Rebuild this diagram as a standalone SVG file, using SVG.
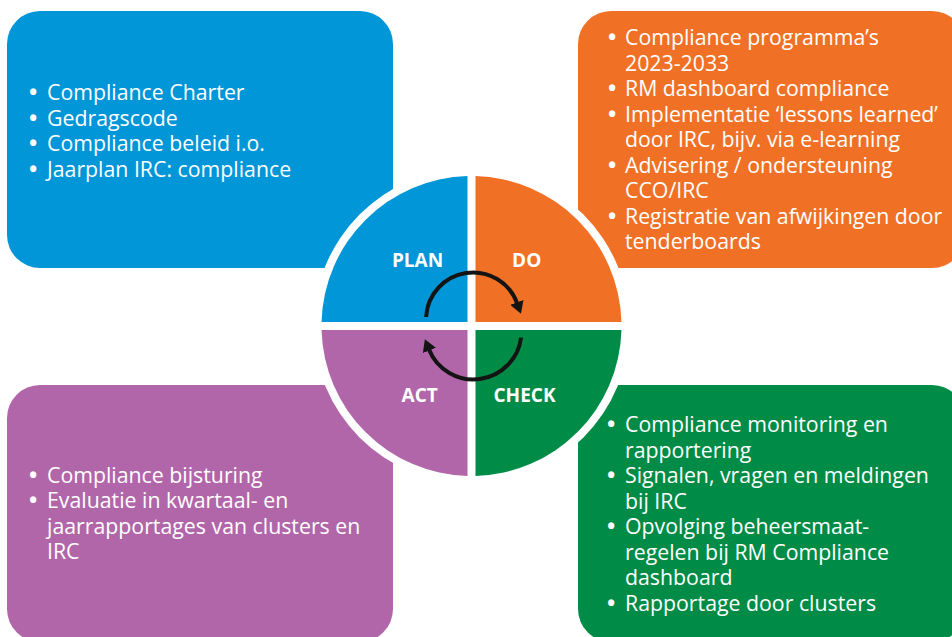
<svg xmlns="http://www.w3.org/2000/svg" width="952" height="637" viewBox="0 0 952 637">
  <style>
    .t { font-family: "Open Sans", "Noto Sans", "Liberation Sans", sans-serif; font-size: 21.3px; fill: #ffffff; }
    .b { font-weight: bold; font-size: 22px; }
    .lbl { font-family: "Open Sans", "Noto Sans", "Liberation Sans", sans-serif; font-size: 19px; font-weight: bold; fill: #ffffff; text-anchor: middle; }
    .arc { fill: none; stroke: #141414; stroke-width: 4; }
  </style>
  <defs>
    <marker id="ah" viewBox="0 0 12 14" markerWidth="12" markerHeight="14" refX="1" refY="7" orient="auto" markerUnits="userSpaceOnUse">
      <path d="M0,0 L12,7 L0,14 Z" fill="#141414"/>
    </marker>
  </defs>
  <rect width="952" height="637" fill="#ffffff"/>

  <g id="box-plan">
    <rect x="7" y="11" width="386" height="257" rx="33" fill="#0096d7"/>
    <text class="t" y="100.3"><tspan class="b" x="29">•</tspan><tspan x="47">Compliance Charter</tspan></text>
    <text class="t" y="125.8"><tspan class="b" x="29">•</tspan><tspan x="47">Gedragscode</tspan></text>
    <text class="t" y="151.3"><tspan class="b" x="29">•</tspan><tspan x="47">Compliance beleid i.o.</tspan></text>
    <text class="t" y="176.8"><tspan class="b" x="29">•</tspan><tspan x="47">Jaarplan IRC: compliance</tspan></text>
  </g>

  <g id="box-do">
    <rect x="578" y="11" width="387" height="257" rx="33" fill="#f07125"/>
    <text class="t" y="45.2"><tspan class="b" x="608">•</tspan><tspan x="625">Compliance programma’s</tspan></text>
    <text class="t" x="625" y="70.7">2023-2033</text>
    <text class="t" y="96.2"><tspan class="b" x="608">•</tspan><tspan x="625">RM dashboard compliance</tspan></text>
    <text class="t" y="121.7"><tspan class="b" x="608">•</tspan><tspan x="625">Implementatie ‘lessons learned’</tspan></text>
    <text class="t" x="625" y="147.2">door IRC, bijv. via e-learning</text>
    <text class="t" y="172.7"><tspan class="b" x="608">•</tspan><tspan x="625">Advisering / ondersteuning</tspan></text>
    <text class="t" x="625" y="198.2">CCO/IRC</text>
    <text class="t" y="223.7"><tspan class="b" x="608">•</tspan><tspan x="625">Registratie van afwijkingen door</tspan></text>
    <text class="t" x="625" y="249.2">tenderboards</text>
  </g>

  <g id="box-act">
    <rect x="7" y="385" width="386" height="257" rx="33" fill="#b166a9"/>
    <text class="t" y="482.5"><tspan class="b" x="29">•</tspan><tspan x="47">Compliance bijsturing</tspan></text>
    <text class="t" y="508"><tspan class="b" x="29">•</tspan><tspan x="47">Evaluatie in kwartaal- en</tspan></text>
    <text class="t" x="47" y="533.5">jaarrapportages van clusters en</text>
    <text class="t" x="47" y="559">IRC</text>
  </g>

  <g id="box-check">
    <rect x="578" y="385" width="387" height="257" rx="33" fill="#008c46"/>
    <text class="t" y="432"><tspan class="b" x="607">•</tspan><tspan x="625">Compliance monitoring en</tspan></text>
    <text class="t" x="625" y="457.5">rapportering</text>
    <text class="t" y="483"><tspan class="b" x="607">•</tspan><tspan x="625">Signalen, vragen en meldingen</tspan></text>
    <text class="t" x="625" y="508.5">bij IRC</text>
    <text class="t" y="534"><tspan class="b" x="607">•</tspan><tspan x="625">Opvolging beheersmaat-</tspan></text>
    <text class="t" x="625" y="559.5">regelen bij RM Compliance</text>
    <text class="t" x="625" y="585">dashboard</text>
    <text class="t" y="610.5"><tspan class="b" x="607">•</tspan><tspan x="625">Rapportage door clusters</tspan></text>
  </g>

  <g id="cycle">
    <circle cx="471.5" cy="326" r="158" fill="#ffffff"/>
    <g id="plan">
      <path d="M467.5,322 V176.05 A150,150 0 0 0 321.55,322 Z" fill="#0096d7"/>
      <text class="lbl" x="417.5" y="267.3">PLAN</text>
    </g>
    <g id="do">
      <path d="M475.5,322 V176.05 A150,150 0 0 1 621.45,322 Z" fill="#f07125"/>
      <text class="lbl" x="526.7" y="267.3">DO</text>
    </g>
    <g id="check">
      <path d="M475.5,330 V475.95 A150,150 0 0 0 621.45,330 Z" fill="#008c46"/>
      <text class="lbl" x="524.5" y="401.7">CHECK</text>
    </g>
    <g id="act">
      <path d="M467.5,330 V475.95 A150,150 0 0 1 321.55,330 Z" fill="#b166a9"/>
      <text class="lbl" x="419.7" y="401.7">ACT</text>
    </g>
  </g>

  <g id="connectors">
    <path class="arc" d="M426.1,317 A47,47 0 0 1 517.2,303.4" marker-end="url(#ah)"/>
    <path class="arc" d="M521.1,337.4 A48,48 0 0 1 429,349.5" marker-end="url(#ah)"/>
  </g>
</svg>
